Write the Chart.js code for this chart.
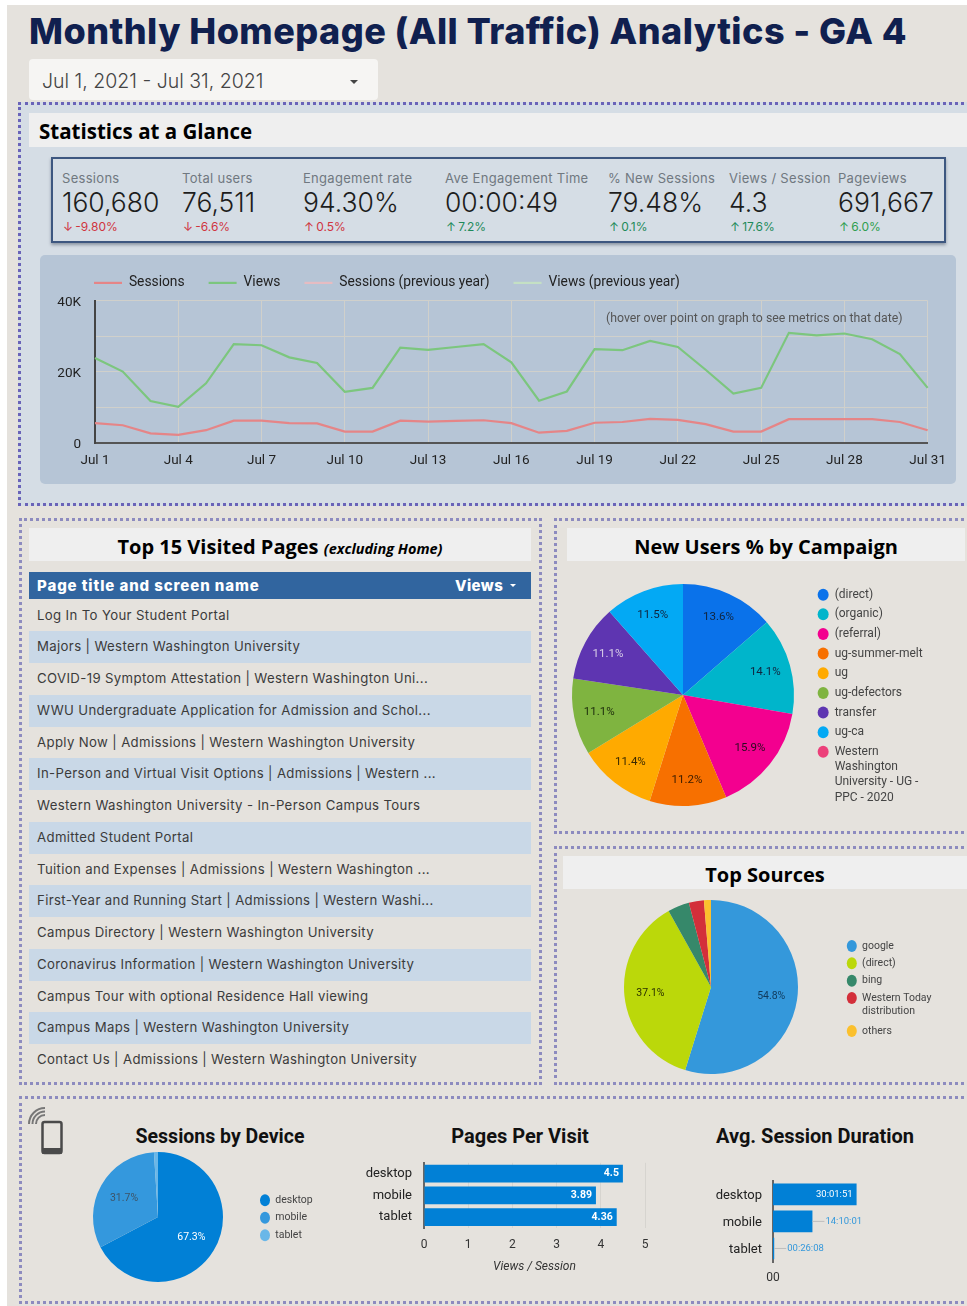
<!DOCTYPE html>
<html lang="en">
<head>
<meta charset="UTF-8">
<title>Monthly Homepage Analytics</title>
<script src="https://cdn.jsdelivr.net/npm/chart.js@4"></script>
<style>
    html, body { margin: 0; padding: 0; background: #fff; }
    #page { position: relative; width: 967px; height: 1306px; overflow: hidden; font-family: Inter, sans-serif; }
    #page div, #page span, #page canvas, #page svg { position: absolute; }
    .sheet { left: 7px; top: 5px; width: 960px; height: 1301px; background: #e5e2dd; }
    .dots { box-sizing: border-box; border: 3px dotted #8d8bbf; }
    .bar { background: #efefef; color: #000; font-family: "Open Sans", sans-serif; font-weight: 700; text-align: center; white-space: nowrap; }
    .t { white-space: nowrap; }
    .kpi-label { font-size: 13px; color: #707880; top: 170px; letter-spacing: .3px; }
    .kpi-value { font-size: 26.5px; font-weight: 300; color: #1d1d1d; top: 186px; }
    .kpi-delta { font-size: 12px; top: 219px; }
    .rowband { left: 29px; width: 502px; height: 31.8px; background: #c9d8e7; }
    .rowtxt { left: 37px; font-size: 13.2px; color: #3b3b3b; letter-spacing: .36px; }
    .rownum { right: 445px; font-size: 13.2px; color: #3b3b3b; }
    .subtitle { font-family: Roboto, sans-serif; font-weight: 700; font-size: 20px; color: #111; text-align: center; }
</style>
</head>
<body>
<div id="page">
    <div class="sheet"></div>
    <div class="t" style="left:29px;top:9px;font-size:36px;font-weight:800;color:#10204f;letter-spacing:.45px">Monthly Homepage (All Traffic) Analytics - GA 4</div>
    <div style="left:29px;top:59px;width:349px;height:41px;background:#f6f5f3;border-radius:4px"></div>
    <div class="t" style="left:42px;top:69px;font-size:19.5px;font-weight:300;color:#444">Jul 1, 2021 - Jul 31, 2021</div>
    <div style="left:350px;top:80px;width:0;height:0;border-left:4px solid transparent;border-right:4px solid transparent;border-top:4px solid #444"></div>

    <!-- statistics block -->
    <div class="dots" style="left:18px;top:102px;width:952px;height:404px;background:#d5dde5;border-color:#6a63b8"></div>
    <div class="bar" style="left:29px;top:113px;width:938px;height:34px;line-height:36px;font-size:20.5px;text-align:left;text-indent:10px">Statistics at a Glance</div>
    <div style="left:51px;top:157px;width:895px;height:86px;box-sizing:border-box;border:2px solid #3d5780;box-shadow:0 2px 3px #8b95a3"></div>
    <div id="kpis"></div>
    <div style="left:40px;top:255px;width:916px;height:229px;background:#b6c5d6;border-radius:5px"></div>
    <canvas id="trend" width="916" height="231" style="left:40px;top:253px"></canvas>
    <div class="t" style="left:606px;top:311px;font-family:Roboto,sans-serif;font-size:12.3px;color:#555">(hover over point on graph to see metrics on that date)</div>

    <!-- table block -->
    <div class="dots" style="left:19px;top:518px;width:523px;height:567px"></div>
    <div class="bar" style="left:29px;top:528px;width:502px;height:33px;line-height:38px;font-size:20px">Top 15 Visited Pages <i style="font-size:14.5px">(excluding Home)</i></div>
    <div style="left:29px;top:572px;width:502px;height:27px;background:#31659f"></div>
    <div class="t" style="left:37px;top:576px;font-size:15px;font-weight:800;color:#fff;letter-spacing:.9px">Page title and screen name</div>
    <div class="t" style="left:455px;top:576px;font-size:15px;font-weight:800;color:#fff;letter-spacing:.4px">Views</div>
    <div style="left:510px;top:584px;width:0;height:0;border-left:3px solid transparent;border-right:3px solid transparent;border-top:3px solid #fff"></div>
    <div id="rows"></div>

    <!-- campaign pie -->
    <div class="dots" style="left:554px;top:518px;width:416px;height:316px"></div>
    <div class="bar" style="left:567px;top:528px;width:398px;height:33px;line-height:38px;font-size:20px">New Users % by Campaign</div>
    <canvas id="campaign" width="400" height="230" style="left:565px;top:580px"></canvas>

    <!-- sources pie -->
    <div class="dots" style="left:554px;top:846px;width:416px;height:239px"></div>
    <div class="bar" style="left:563px;top:856px;width:404px;height:33px;line-height:38px;font-size:20px">Top Sources</div>
    <canvas id="sources" width="340" height="182" style="left:620px;top:896px"></canvas>

    <!-- device block -->
    <div class="dots" style="left:19px;top:1096px;width:951px;height:208px"></div>
    <svg style="left:26px;top:1105px" width="40" height="52" viewBox="0 0 40 52">
        <rect x="16.5" y="17" width="19" height="31" rx="2" fill="none" stroke="#4a4a4a" stroke-width="2.5"/>
        <rect x="16" y="43" width="20" height="6" rx="1" fill="#4a4a4a"/>
        <path d="M3 19 A16 16 0 0 1 19 3 M6.5 19 A12.5 12.5 0 0 1 19 6.500 M10 19 A9 9 0 0 1 19 10" fill="none" stroke="#777" stroke-width="2"/>
    </svg>
    <div class="subtitle t" style="left:120px;top:1125px;width:200px;font-size:19.5px">Sessions by Device</div>
    <canvas id="device" width="270" height="140" style="left:58px;top:1147px"></canvas>
    <div class="subtitle t" style="left:420px;top:1124px;width:200px">Pages Per Visit</div>
    <canvas id="pages" width="320" height="129" style="left:350px;top:1151px"></canvas>
    <div class="subtitle t" style="left:690px;top:1124px;width:250px">Avg. Session Duration</div>
    <canvas id="duration" width="270" height="120" style="left:690px;top:1170px"></canvas>
</div>

<script>
    // KPI strip
    const kpiLabels = ['Sessions', 'Total users', 'Engagement rate', 'Ave Engagement Time', '% New Sessions', 'Views / Session', 'Pageviews'];
    const kpiValues = ['160,680', '76,511', '94.30%', '00:00:49', '79.48%', '4.3', '691,667'];
    const kpiDeltas = ['-9.80%', '-6.6%', '0.5%', '7.2%', '0.1%', '17.6%', '6.0%'];
    const kpiArrows = ['↓', '↓', '↑', '↑', '↑', '↑', '↑'];
    const kpiColors = ['#d0343f', '#d0343f', '#d0343f', '#1e8a5a', '#1e8a5a', '#1e8a5a', '#2f9e4f'];
    const kpiLeft = [62, 182, 303, 445, 608, 729, 838];

    // daily trend
    const days = ['Jul 1', 'Jul 2', 'Jul 3', 'Jul 4', 'Jul 5', 'Jul 6', 'Jul 7', 'Jul 8', 'Jul 9', 'Jul 10', 'Jul 11', 'Jul 12', 'Jul 13', 'Jul 14', 'Jul 15', 'Jul 16',
        'Jul 17', 'Jul 18', 'Jul 19', 'Jul 20', 'Jul 21', 'Jul 22', 'Jul 23', 'Jul 24', 'Jul 25', 'Jul 26', 'Jul 27', 'Jul 28', 'Jul 29', 'Jul 30', 'Jul 31'];
    const sessions = [5600, 5000, 2700, 2300, 3600, 6300, 6300, 5600, 5500, 3200, 3200, 6300, 6000, 6200, 6400, 5600,
        2900, 3400, 5700, 5900, 6800, 6500, 5300, 3200, 3200, 6700, 6700, 6700, 6700, 5900, 3600];
    const views = [23900, 20100, 11800, 10200, 16800, 27800, 27500, 24100, 22500, 14400, 15500, 26800, 26200, 27000, 27800, 22700,
        11900, 14500, 26400, 26100, 28700, 27000, 20600, 13900, 15500, 31000, 30300, 30800, 29200, 25000, 15500];

    // top pages table
    const pageTitles = ['Log In To Your Student Portal', 'Majors | Western Washington University', 'COVID-19 Symptom Attestation | Western Washington Uni...',
        'WWU Undergraduate Application for Admission and Schol...', 'Apply Now | Admissions | Western Washington University',
        'In-Person and Virtual Visit Options | Admissions | Western ...', 'Western Washington University - In-Person Campus Tours',
        'Admitted Student Portal', 'Tuition and Expenses | Admissions | Western Washington ...', 'First-Year and Running Start | Admissions | Western Washi...',
        'Campus Directory | Western Washington University', 'Coronavirus Information | Western Washington University',
        'Campus Tour with optional Residence Hall viewing', 'Campus Maps | Western Washington University', 'Contact Us | Admissions | Western Washington University'];
    const pageViews = ['52,795', '33,541', '15,683', '14,393', '11,368', '10,777', '10,302', '9,490', '8,327', '8,212', '6,524', '6,226', '5,463', '5,289', '4,793'];

    // pies
    const campaignLabels = ['(direct)', '(organic)', '(referral)', 'ug-summer-melt', 'ug', 'ug-defectors', 'transfer', 'ug-ca', ['Western', 'Washington', 'University - UG -', 'PPC - 2020']];
    const campaignValues = [13.6, 14.1, 15.9, 11.2, 11.4, 11.1, 11.1, 11.5, 0];
    const campaignColors = ['#0a72ea', '#00b5cb', '#f3008f', '#f77000', '#ffaa00', '#7fb440', '#5e35b1', '#03a9f4', '#ec407a'];
    const sourceLabels = ['google', '(direct)', 'bing', ['Western Today', 'distribution'], 'others'];
    const sourceValues = [54.8, 37.1, 4.0, 2.8, 1.3];
    const sourceColors = ['#3498db', '#bbd80a', '#36886a', '#d32f3a', '#fbc02d'];
    const deviceLabels = ['desktop', 'mobile', 'tablet'];
    const deviceValues = [67.3, 31.7, 1.0];
    const deviceColors = ['#0180d6', '#3498dd', '#6ab7e8'];

    // device bars
    const viewsPerSession = [4.5, 3.89, 4.36];
    const durationSeconds = [108111, 51001, 1568];

    const pad2 = n => String(n).padStart(2, '0');
    const hms = s => pad2(Math.floor(s / 3600)) + ':' + pad2(Math.floor(s / 60) % 60) + ':' + pad2(s % 60);

    function addText(parent, cls, left, top, text, color) {
        const el = document.createElement('div');
        el.className = cls;
        if (left !== null) el.style.left = left + 'px';
        if (top !== null) el.style.top = top + 'px';
        if (color) el.style.color = color;
        el.textContent = text;
        parent.appendChild(el);
        return el;
    }

    const kpiBox = document.getElementById('kpis');
    kpiLabels.forEach((label, i) => {
        addText(kpiBox, 't kpi-label', kpiLeft[i], null, label);
        addText(kpiBox, 't kpi-value', kpiLeft[i], null, kpiValues[i]);
        addText(kpiBox, 't kpi-delta', kpiLeft[i] + 1, null, kpiArrows[i] + '\u2009' + kpiDeltas[i], kpiColors[i]);
    });

    const rowBox = document.getElementById('rows');
    pageTitles.forEach((title, i) => {
        const rowTop = 599.5 + i * 31.75;
        if (i % 2 === 1) {
            addText(rowBox, 'rowband', null, rowTop, '');
        }
        addText(rowBox, 't rowtxt', null, rowTop + 7, title);
        addText(rowBox, 't rownum', null, rowTop + 7, pageViews[i]);
    });

    Chart.defaults.animation = false;
    Chart.defaults.responsive = false;
    Chart.defaults.font.family = 'Roboto, sans-serif';
    Chart.defaults.plugins.tooltip.enabled = false;

    // moves the legend to where the report has it (the legend clips to its own box)
    const legendNudge = {
        id: 'legendNudge',
        afterLayout(chart, args, opts) {
            const legend = chart.legend;
            legend.left += opts.x || 0;
            legend.top += opts.y || 0;
            legend.right = chart.width;
            legend.bottom = chart.height;
        }
    };

    // percent text on the slices
    const pieLabels = {
        id: 'pieLabels',
        afterDatasetsDraw(chart, args, opts) {
            const ctx = chart.ctx;
            const values = chart.data.datasets[0].data;
            ctx.save();
            ctx.font = opts.size + 'px Roboto, sans-serif';
            ctx.textAlign = 'center';
            ctx.textBaseline = 'middle';
            chart.getDatasetMeta(0).data.forEach((arc, i) => {
                if (values[i] < 5) return;
                const mid = (arc.startAngle + arc.endAngle) / 2;
                ctx.fillStyle = opts.colors[i] || '#222';
                ctx.fillText(values[i].toFixed(1) + '%', arc.x + Math.cos(mid) * arc.outerRadius * opts.radius, arc.y + Math.sin(mid) * arc.outerRadius * opts.radius);
            });
            ctx.restore();
        }
    };

    // value text on the bars, outside with a small leader when the bar is short
    const barLabels = {
        id: 'barLabels',
        afterDatasetsDraw(chart, args, opts) {
            const ctx = chart.ctx;
            const values = chart.data.datasets[0].data;
            ctx.save();
            ctx.font = opts.font;
            ctx.textBaseline = 'middle';
            chart.getDatasetMeta(0).data.forEach((bar, i) => {
                const text = opts.format(values[i]);
                if (values[i] >= opts.insideFrom) {
                    ctx.textAlign = 'right';
                    ctx.fillStyle = '#fff';
                    ctx.fillText(text, bar.x - 4, bar.y);
                } else {
                    ctx.strokeStyle = '#bdbdbd';
                    ctx.lineWidth = 1;
                    ctx.beginPath();
                    ctx.moveTo(bar.x, bar.y);
                    ctx.lineTo(bar.x + 12, bar.y);
                    ctx.stroke();
                    ctx.textAlign = 'left';
                    ctx.fillStyle = '#3498db';
                    ctx.fillText(text, bar.x + 13, bar.y);
                }
            });
            ctx.restore();
        }
    };

    new Chart(document.getElementById('trend'), {
        type: 'line',
        plugins: [legendNudge],
        data: {
            labels: days,
            datasets: [
                { label: 'Sessions', data: sessions, borderColor: '#e58587', backgroundColor: '#e58587' },
                { label: 'Views', data: views, borderColor: '#7cc67e', backgroundColor: '#7cc67e' },
                { label: 'Sessions (previous year)', data: [], borderColor: '#e6bcc2', backgroundColor: '#e6bcc2' },
                { label: 'Views (previous year)', data: [], borderColor: '#c4e0c4', backgroundColor: '#c4e0c4' }
            ]
        },
        options: {
            layout: { padding: { right: 28 } },
            elements: { point: { radius: 0, borderWidth: 2.2 }, line: { tension: 0, borderWidth: 2.2 } },
            plugins: {
                legendNudge: { x: 30, y: -1 },
                legend: {
                    align: 'start',
                    labels: { usePointStyle: true, pointStyle: 'line', pointStyleWidth: 28, padding: 24, color: '#222', font: { size: 13.8 } }
                }
            },
            scales: {
                x: {
                    afterFit: s => { s.height = 41; },
                    grid: { drawTicks: false, color: c => c.index % 3 === 0 ? '#d0d0cb' : 'transparent' },
                    border: { color: '#555', width: 2 },
                    ticks: {
                        autoSkip: false, maxRotation: 0, padding: 10, color: '#222', font: { size: 13.5 },
                        callback(v, i) { return i % 3 === 0 ? days[i] : ''; }
                    }
                },
                y: {
                    min: 0, max: 40000,
                    afterFit: s => { s.width = 55; },
                    grid: { drawTicks: false, color: '#d0d0cb' },
                    border: { color: '#444', width: 2 },
                    ticks: {
                        stepSize: 10000, padding: 14, labelOffset: 1.5, color: '#222', font: { size: 13.5 },
                        callback(v) { return v === 0 ? '0' : v % 20000 === 0 ? v / 1000 + 'K' : ''; }
                    }
                }
            }
        }
    });

    function pieChart(id, labels, values, colors, cfg) {
        return new Chart(document.getElementById(id), {
            type: 'pie',
            plugins: [legendNudge, pieLabels],
            data: { labels: labels, datasets: [{ data: values, backgroundColor: colors, borderWidth: 0 }] },
            options: {
                layout: { padding: cfg.padding },
                plugins: {
                    legendNudge: cfg.nudge,
                    pieLabels: { colors: cfg.labelColors, radius: cfg.radius, size: cfg.labelSize },
                    legend: {
                        position: 'chartArea',
                        align: 'start',
                        labels: {
                            usePointStyle: true, pointStyle: 'circle', pointStyleWidth: cfg.dotWidth, boxHeight: 8.5,
                            padding: cfg.gap, color: '#444', font: { size: cfg.legendSize, lineHeight: cfg.lineHeight }
                        }
                    }
                }
            }
        });
    }

    pieChart('campaign', campaignLabels, campaignValues, campaignColors, {
        padding: { top: 4, bottom: 4, right: 164 },
        nudge: { x: 245, y: 1 },
        labelColors: ['#10243e', '#10243e', '#2a0a20', '#3a1c00', '#3a2a00', '#1d2c0c', '#d9cfe8', '#10243e'],
        radius: .77, labelSize: 11.5, gap: 7.65, dotWidth: 11, legendSize: 12, lineHeight: 1.275
    });

    pieChart('sources', sourceLabels, sourceValues, sourceColors, {
        padding: { top: 4, bottom: 4, right: 158 },
        nudge: { x: 220, y: 38 },
        labelColors: ['#103a5c', '#2a3000'],
        radius: .7, labelSize: 10.5, gap: 6.8, dotWidth: 10, legendSize: 10.5, lineHeight: 1.25
    });

    pieChart('device', deviceLabels, deviceValues, deviceColors, {
        padding: { top: 5, bottom: 5, right: 70 },
        nudge: { x: 195, y: 41 },
        labelColors: ['#ffffff', '#3d5468'],
        radius: .6, labelSize: 10.5, gap: 7, dotWidth: 10, legendSize: 10.5, lineHeight: 1.3
    });

    new Chart(document.getElementById('pages'), {
        type: 'bar',
        plugins: [barLabels],
        data: { labels: deviceLabels, datasets: [{ data: viewsPerSession, backgroundColor: '#0180d6', barPercentage: .82, categoryPercentage: 1 }] },
        options: {
            indexAxis: 'y',
            layout: { padding: { right: 25 } },
            plugins: {
                legend: { display: false },
                barLabels: { font: 'bold 10.5px Roboto, sans-serif', insideFrom: 0, format: v => String(v) }
            },
            scales: {
                x: {
                    min: 0, max: 5,
                    afterFit: s => { s.height = 52; },
                    grid: { drawTicks: false, color: '#d6d4cf' },
                    border: { display: false },
                    ticks: { stepSize: 1, padding: 10, color: '#333', font: { size: 12 } },
                    title: { display: true, text: 'Views / Session', color: '#333', padding: { bottom: 6 }, font: { size: 12, style: 'italic' } }
                },
                y: {
                    afterFit: s => { s.width = 74; },
                    grid: { display: false },
                    border: { color: '#666', width: 2 },
                    ticks: { padding: 4, color: '#222', font: { size: 13 } }
                }
            }
        }
    });

    new Chart(document.getElementById('duration'), {
        type: 'bar',
        plugins: [barLabels],
        data: { labels: deviceLabels, datasets: [{ data: durationSeconds, backgroundColor: '#0180d6', barPercentage: .8, categoryPercentage: 1 }] },
        options: {
            indexAxis: 'y',
            layout: { padding: { top: .5, right: 20 } },
            plugins: {
                legend: { display: false },
                barLabels: { font: '9.5px Roboto, sans-serif', insideFrom: 100000, format: hms }
            },
            scales: {
                x: {
                    min: 0, max: 216000,
                    afterFit: s => { s.height = 28; },
                    grid: { display: false },
                    border: { display: false },
                    ticks: {
                        stepSize: 216000, padding: 1, color: '#333', font: { size: 12 },
                        callback(v) { return v === 0 ? '00' : ''; }
                    }
                },
                y: {
                    afterFit: s => { s.width = 83; },
                    grid: { display: false },
                    border: { color: '#666', width: 2 },
                    ticks: { padding: 3, labelOffset: 1, color: '#222', font: { size: 13 } }
                }
            }
        }
    });
</script>
</body>
</html>
